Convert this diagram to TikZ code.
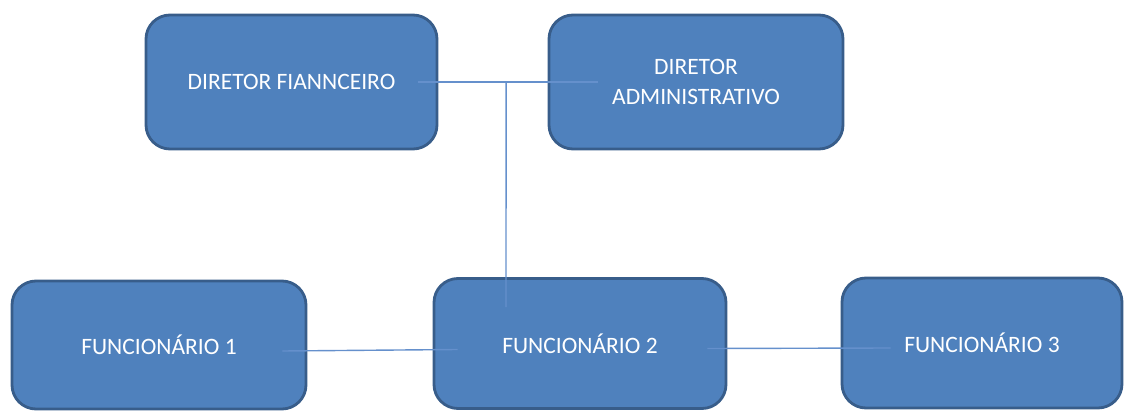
\documentclass[tikz,border=0pt]{standalone}
\usepackage{fontspec}
\setmainfont{Carlito}
\usetikzlibrary{calc}
\definecolor{boxfill}{HTML}{4F81BD}
\definecolor{boxline}{HTML}{385D8A}
\definecolor{linkcol}{HTML}{6590CC}
\newcommand{\lowtext}[1]{\raisebox{-4pt}{#1}}
\begin{document}
\begin{tikzpicture}[x=1pt,y=-1pt,
  orgbox/.style={draw=boxline, fill=boxfill, line width=2.8pt, rounded corners=24pt,
    text=white, align=center, inner sep=0pt,
    font=\fontsize{23.5}{30}\selectfont},
  link/.style={draw=linkcol, line width=1.4pt}]
\useasboundingbox (0,0) rectangle (1128,412);
\node[orgbox, minimum width=291pt, minimum height=134pt] (df) at (291.5,82) {\raisebox{-1pt}{DIRETOR FIANNCEIRO}};
\node[orgbox, minimum width=294pt, minimum height=134pt] (da) at (696,82) {\raisebox{-2pt}{DIRETOR}\\\raisebox{-2pt}{ADMINISTRATIVO}};
\node[orgbox, minimum width=294pt, minimum height=128pt] (f1) at (159,345) {\lowtext{FUNCIONÁRIO 1}};
\node[orgbox, minimum width=292pt, minimum height=130pt] (f2) at (580,343.5) {\lowtext{FUNCIONÁRIO 2}};
\node[orgbox, minimum width=280pt, minimum height=130pt] (f3) at (982,343) {\lowtext{FUNCIONÁRIO 3}};
\coordinate (j) at ($(df.east)!0.62!(da.west)$);
\draw[link] ($(df.east)+(-20,0)$) -- ($(da.west)+(50,0)$);
\draw[link] (j) -- ($(f2.north)+(-74,30)$);
\draw[link] ($(f1.east)+(-25,6)$) -- ($(f2.west)+(25,6)$);
\draw[link] ($(f2.east)+(-20,5)$) -- ($(f3.west)+(50,5)$);
\end{tikzpicture}
\end{document}
